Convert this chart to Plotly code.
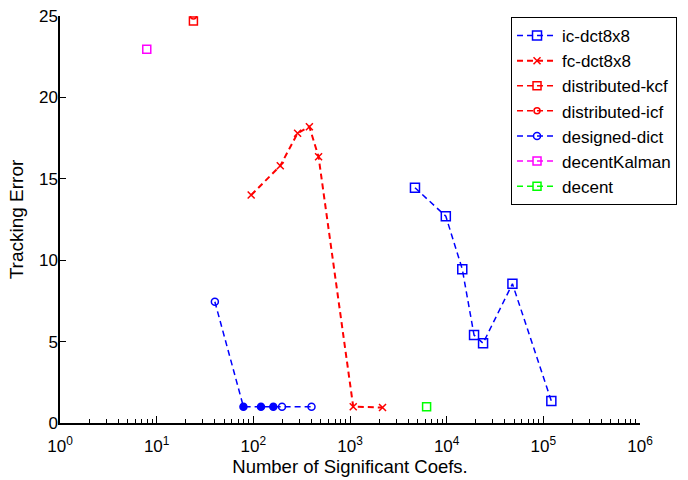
import plotly.graph_objects as go

# Tracking error vs. number of significant coefficients for each method
ic_dct_x = [4700, 9800, 14500, 19200, 23800, 47900, 121000]
ic_dct_y = [14.45, 12.7, 9.45, 5.4, 4.9, 8.55, 1.35]

fc_dct_x = [95, 190, 287, 380, 473, 1080, 2170]
fc_dct_y = [14.0, 15.8, 17.8, 18.2, 16.35, 1.0, 0.95]

kcf_x = [24]
kcf_y = [24.7]

icf_x = [24]
icf_y = [25.0]

dict_x = [40, 79, 120, 161, 198, 400]
dict_y = [7.45, 1.0, 1.0, 1.0, 1.0, 1.0]

kalman_x = [7.9]
kalman_y = [22.95]

decent_x = [6200]
decent_y = [1.0]

x_major = [1, 10, 100, 1000, 10000, 100000, 1000000]
x_major_text = ["10<sup>%d</sup>" % i for i in range(7)]
x_minor = [m * d for d in [1, 10, 100, 1000, 10000, 100000] for m in range(2, 10)]
y_ticks = [0, 5, 10, 15, 20, 25]

BLUE = "rgb(0,0,255)"
RED = "rgb(255,0,0)"
MAGENTA = "rgb(255,0,255)"
GREEN = "rgb(0,255,0)"
DASH = "6px,4px"

fig = go.Figure()


def add_series(x, y, name, color, symbol, size, lw=1.5):
    fig.add_trace(go.Scatter(
        x=x, y=y, name=name, mode="lines+markers",
        line=dict(color=color, width=lw, dash=DASH),
        marker=dict(symbol=symbol, size=size, color=color,
                    line=dict(color=color, width=1.5)),
    ))


add_series(ic_dct_x, ic_dct_y, "ic-dct8x8", BLUE, "square-open", 9)
add_series(fc_dct_x, fc_dct_y, "fc-dct8x8", RED, "x-thin-open", 7, lw=2)
add_series(kcf_x, kcf_y, "distributed-kcf", RED, "square-open", 8)
add_series(icf_x, icf_y, "distributed-icf", RED, "circle-open", 6)
add_series(dict_x, dict_y, "designed-dict", BLUE,
           ["circle-open", "circle", "circle", "circle", "circle-open", "circle-open"], 7)
add_series(kalman_x, kalman_y, "decentKalman", MAGENTA, "square-open", 8)
add_series(decent_x, decent_y, "decent", GREEN, "square-open", 8)

font = "Liberation Sans, Arial, Helvetica, sans-serif"

fig.update_layout(
    width=688, height=480,
    margin=dict(l=60, r=47, t=16, b=57),
    paper_bgcolor="white", plot_bgcolor="white",
    font=dict(family=font, size=16, color="black"),
    showlegend=True,
    legend=dict(
        x=1.062, y=0.9975, xanchor="right", yanchor="top",
        bgcolor="white", bordercolor="black", borderwidth=1,
        font=dict(size=17), tracegroupgap=0, itemwidth=40,
    ),
    xaxis=dict(
        type="log", range=[0, 6], automargin=False,
        tickmode="array", tickvals=x_major, ticktext=x_major_text,
        ticks="inside", ticklen=7, tickwidth=1, tickcolor="black",
        ticklabelstandoff=7,
        minor=dict(tickmode="array", tickvals=x_minor, ticks="inside",
                   ticklen=4, tickwidth=1, tickcolor="black", showgrid=False),
        showline=True, linecolor="black", linewidth=2,
        showgrid=False, zeroline=False,
        tickfont=dict(size=17),
        title=dict(text="Number of Significant Coefs.", font=dict(size=18.5), standoff=4),
    ),
    yaxis=dict(
        range=[0, 25], automargin=False,
        tickmode="array", tickvals=y_ticks,
        ticks="inside", ticklen=6, tickwidth=1, tickcolor="black",
        ticklabelstandoff=-3,
        showline=True, linecolor="black", linewidth=1.5,
        showgrid=False, zeroline=False,
        tickfont=dict(size=17),
        title=dict(text="Tracking Error", font=dict(size=19), standoff=10),
    ),
)

fig.write_html("out.html")
